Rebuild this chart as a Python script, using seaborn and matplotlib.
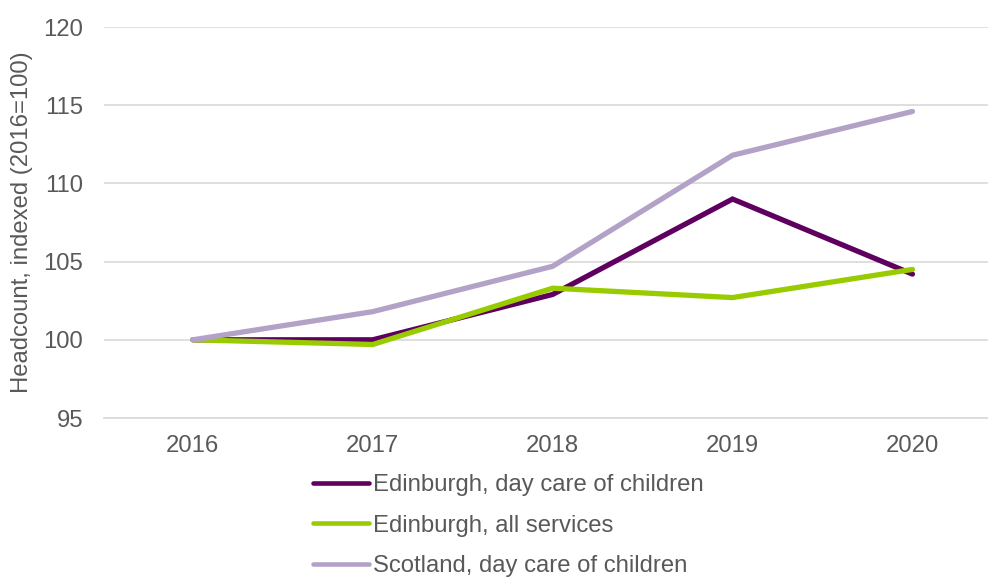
import matplotlib
matplotlib.use("Agg")
import matplotlib.pyplot as plt
import seaborn as sns
import pandas as pd

years = ["2016", "2017", "2018", "2019", "2020"]
edinburgh_childcare = [100.0, 100.0, 102.9, 109.0, 104.2]
edinburgh_all = [100.0, 99.7, 103.3, 102.7, 104.5]
scotland_childcare = [100.0, 101.8, 104.7, 111.8, 114.6]

series_names = [
    "Edinburgh, day care of children",
    "Edinburgh, all services",
    "Scotland, day care of children",
]
series_values = [edinburgh_childcare, edinburgh_all, scotland_childcare]
colors = ["#5F0060", "#99CC00", "#B3A2C7"]
y_ticks = [95, 100, 105, 110, 115, 120]

rows = []
for name, vals in zip(series_names, series_values):
    for yr, v in zip(years, vals):
        rows.append({"year": yr, "value": v, "series": name})
df = pd.DataFrame(rows)

sns.set_theme(style="white")
plt.rcParams["font.family"] = ["Liberation Sans", "DejaVu Sans"]

text_color = "#595959"
grid_color = "#D9D9D9"
font_size = 17.2

fig = plt.figure(figsize=(9.88, 5.78), dpi=100)
ax = fig.add_axes([104 / 988, 1 - 418 / 578, 1 - 104 / 988, (418 - 27) / 578])

sns.lineplot(
    data=df, x="year", y="value", hue="series", hue_order=series_names,
    palette=colors, linewidth=3.8, sort=False, ax=ax, legend=False,
)
for line in ax.lines:
    line.set_solid_capstyle("round")
    line.set_solid_joinstyle("miter")

ax.set_ylim(95, 120)
ax.set_yticks(y_ticks)
ax.set_xlim(-0.494, 4.42)
ax.yaxis.grid(True, color=grid_color, linewidth=1.2)
ax.set_axisbelow(True)

for side in ["top", "right", "left"]:
    ax.spines[side].set_visible(False)
ax.spines["bottom"].set_color(grid_color)
ax.spines["bottom"].set_linewidth(1.2)

ax.tick_params(axis="x", colors=grid_color, length=5, width=1.2, pad=7,
               labelcolor=text_color, labelsize=font_size, direction="out")
ax.tick_params(axis="y", length=0, pad=15, labelcolor=text_color,
               labelsize=font_size)
ax.set_xlabel("")
ax.set_ylabel("Headcount, indexed (2016=100)", color=text_color,
              fontsize=font_size)
ax.yaxis.set_label_coords(-0.080, 0.5)

handles = [plt.Line2D([], [], color=c, linewidth=3.3, solid_capstyle="round")
           for c in colors]
fig.legend(
    handles, series_names, loc="upper left",
    bbox_to_anchor=(313 / 988, 1 - 474 / 578),
    frameon=False, fontsize=font_size, labelcolor=text_color,
    handlelength=2.34, handletextpad=0.17, labelspacing=0.78,
    borderpad=0, borderaxespad=0,
)

fig.savefig("out.png", dpi=100, facecolor="white")
